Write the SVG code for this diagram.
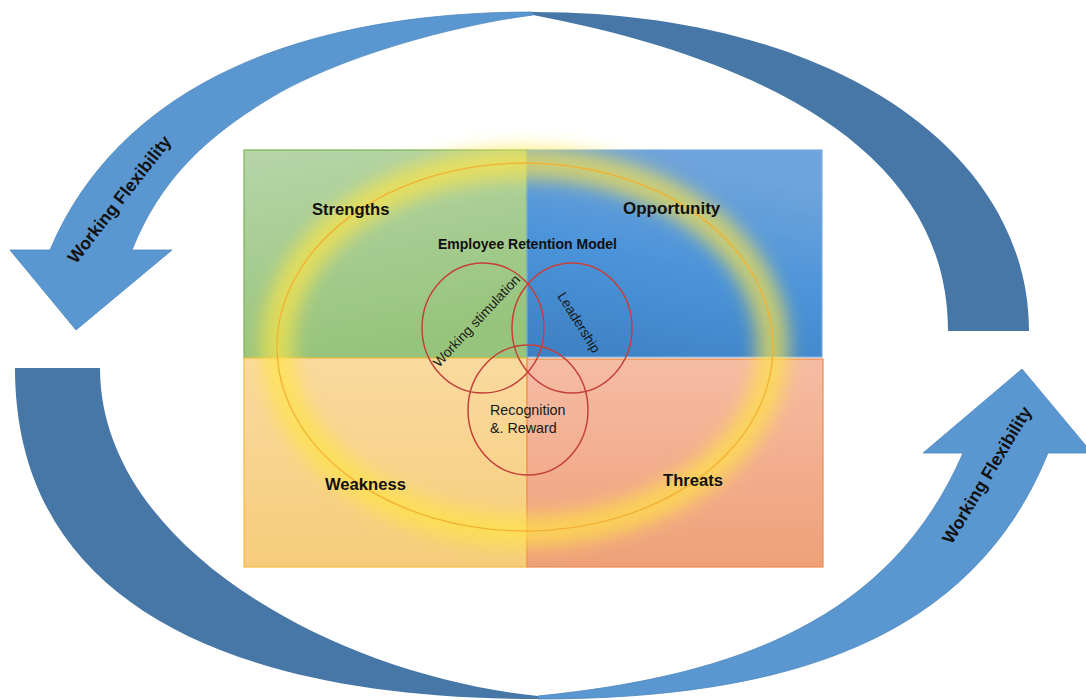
<svg xmlns="http://www.w3.org/2000/svg" width="1086" height="700" viewBox="0 0 1086 700">
<defs>
  <linearGradient id="gGreen" x1="0" y1="0" x2="0.25" y2="1">
    <stop offset="0" stop-color="#b6d5aa"/>
    <stop offset="1" stop-color="#97c47b"/>
  </linearGradient>
  <linearGradient id="gBlue" x1="0.3" y1="0" x2="0" y2="1">
    <stop offset="0" stop-color="#6ea3db"/>
    <stop offset="0.45" stop-color="#4c94da"/>
    <stop offset="1" stop-color="#3c80c2"/>
  </linearGradient>
  <linearGradient id="gOrange" x1="0" y1="0" x2="0" y2="1">
    <stop offset="0" stop-color="#f9da9f"/>
    <stop offset="1" stop-color="#f6cc7b"/>
  </linearGradient>
  <linearGradient id="gSalmon" x1="0" y1="0" x2="0" y2="1">
    <stop offset="0" stop-color="#f5bca4"/>
    <stop offset="1" stop-color="#efa079"/>
  </linearGradient>
  <filter id="glow" x="-20%" y="-25%" width="140%" height="150%">
    <feGaussianBlur stdDeviation="9"/>
  </filter>
</defs>
<style>
  .lbl{font-family:"Liberation Sans",Arial,sans-serif;font-weight:bold;font-size:16.6px;fill:#111}
  .title{font-family:"Liberation Sans",Arial,sans-serif;font-weight:bold;font-size:14px;fill:#111}
  .small{font-family:"Liberation Sans",Arial,sans-serif;font-size:14.3px;fill:#1a1a1a}
  .rot{font-family:"Liberation Sans",Arial,sans-serif;font-size:13.8px;fill:#1a1a1a}
  .atext{font-family:"Liberation Sans",Arial,sans-serif;font-weight:bold;font-size:17.6px;fill:#111}
  .circ{fill:none;stroke:#c5403b;stroke-width:1.5}
  .light{fill:#5a97d0;stroke:#4d86bd;stroke-width:0.8}
  .dark{fill:#4677a7}
</style>
<rect x="0" y="0" width="1086" height="700" fill="#ffffff"/>

<g id="connectors">
  <g id="arrow-top">
    <path class="dark" d="M 533,12 C 833,12 1029,151 1029,331 L 948,331 C 948,151 763,59 533,15 Z"/>
    <path class="light" d="M 76,330 L 172,250 L 132,250 C 160,180 205,138 267,100 C 335,57.6 454,25 533,15 L 533,12 C 303,12 120,84 50,250 L 10,250 Z"/>
    <text class="atext" text-anchor="middle" x="124" y="203" transform="rotate(-52 124 203)">Working Flexibility</text>
  </g>
  <g id="arrow-bottom">
    <path class="dark" d="M 15,368 L 100,368 C 100,548 338,676 538,696 L 538,699 C 238,699 15,608 15,368 Z"/>
    <path class="light" d="M 538,696 C 738,676 891,619 963,453 L 923,453 L 1022,369 L 1092,453 L 1048,453 C 973,639 788,699 538,699 Z"/>
    <text class="atext" text-anchor="middle" x="992" y="478" transform="rotate(-59 992 478)">Working Flexibility</text>
  </g>
</g>

<g id="strengths">
  <rect x="244" y="150" width="283" height="208" fill="url(#gGreen)" stroke="#7ab356" stroke-width="1.2"/>
</g>
<g id="opportunity">
  <rect x="527" y="150" width="295" height="207" fill="url(#gBlue)" stroke="#7aabde" stroke-width="1.2"/>
</g>
<g id="weakness">
  <rect x="244" y="358" width="283" height="209" fill="url(#gOrange)" stroke="#f6bb45" stroke-width="1.2"/>
</g>
<g id="threats">
  <rect x="527" y="359" width="296" height="208" fill="url(#gSalmon)" stroke="#ef8a4d" stroke-width="1.2"/>
</g>

<g id="retention-ellipse">
  <ellipse cx="525" cy="347" rx="248" ry="184" fill="none" stroke="#ffe444" stroke-opacity="0.68" stroke-width="32" filter="url(#glow)"/>
  <ellipse cx="525" cy="347" rx="248" ry="184" fill="none" stroke="#f2b134" stroke-width="1.3"/>
</g>

<g id="labels">
  <text class="lbl" x="312" y="215">Strengths</text>
  <text class="lbl" x="623" y="214" style="font-size:17px">Opportunity</text>
  <text class="lbl" x="325" y="490">Weakness</text>
  <text class="lbl" x="663" y="486">Threats</text>
  <text class="title" text-anchor="middle" x="527.5" y="249">Employee Retention Model</text>
</g>

<g id="working-stimulation">
  <ellipse class="circ" cx="483" cy="328" rx="61" ry="65"/>
  <text class="rot" text-anchor="middle" x="480" y="324" transform="rotate(-47 480 324)">Working stimulation</text>
</g>
<g id="leadership">
  <ellipse class="circ" cx="572" cy="328" rx="60" ry="65"/>
  <text class="rot" text-anchor="middle" x="575" y="325" transform="rotate(58 575 325)">Leadership</text>
</g>
<g id="recognition">
  <ellipse class="circ" cx="528" cy="410" rx="60" ry="65"/>
  <text class="small" x="490" y="415">Recognition</text>
  <text class="small" x="490" y="433">&amp;. Reward</text>
</g>
</svg>
